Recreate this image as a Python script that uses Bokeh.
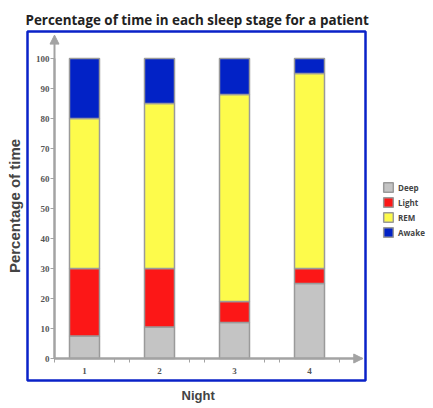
from bokeh.embed import file_html
from bokeh.models import (Arrow, BoxAnnotation, ColumnDataSource, FixedTicker, Legend, LegendItem,
                          NormalHead, Range1d, Title)
from bokeh.plotting import figure
from bokeh.resources import INLINE

# Data
nights = [1, 2, 3, 4]
stages = ["Deep", "Light", "REM", "Awake"]
deep = [7.5, 10.5, 12, 25]
light = [22.5, 19.5, 7, 5]
rem = [50, 55, 69, 65]
awake = [20, 15, 12, 5]
y_ticks = [0, 10, 20, 30, 40, 50, 60, 70, 80, 90, 100]
colours = ["#c4c4c4", "#fc1717", "#fdfb4b", "#0222c6"]
AXIS_GREY = "#a3a3a3"

source = ColumnDataSource(data=dict(night=nights, Deep=deep, Light=light, REM=rem, Awake=awake))

# frame runs to the right edge so the legend can sit outside the blue box
p = figure(width=433, height=408, output_backend="svg", toolbar_location=None, tools="",
           x_range=Range1d(0.2133, 5.6533), y_range=Range1d(-8, 109.667),
           min_border_left=25, min_border_top=29, min_border_right=0, min_border_bottom=26)

p.title.text = "Percentage of time in each sleep stage for a patient"
p.title.text_font = "Open Sans"
p.title.text_font_size = "13.4px"
p.title.text_font_style = "bold"
p.title.text_color = "#222222"
p.title.standoff = 1
p.title.offset = 0

p.outline_line_color = None
p.xgrid.visible = False
p.ygrid.visible = False

# blue box around the chart area
p.add_layout(BoxAnnotation(left=0.24, right=4.7467, bottom=-7.333, top=109, fill_alpha=0,
                           line_color="#0a22c8", line_width=2.5, line_alpha=1))

renderers = p.vbar_stack(stages, x="night", width=0.4, color=colours, line_color="#9a9a9a",
                         line_width=1.5, source=source)

# axes sit inside the blue box
p.yaxis.fixed_location = 0.6
p.yaxis.bounds = (0, 100)
p.yaxis.ticker = FixedTicker(ticks=y_ticks)
p.yaxis.major_tick_in = 0
p.yaxis.major_tick_out = 4
p.yaxis.major_label_standoff = 1

p.xaxis.fixed_location = 0
p.xaxis.bounds = (0.6, 4.7)
p.xaxis.ticker = FixedTicker(ticks=nights, minor_ticks=[0.6, 1.4, 1.6, 2.4, 2.6, 3.4, 3.6, 4.4])
p.xaxis.major_tick_in = 0
p.xaxis.major_tick_out = 0
p.xaxis.minor_tick_in = 0
p.xaxis.minor_tick_out = 4
p.xaxis.major_label_standoff = 5

for ax in [p.xaxis[0], p.yaxis[0]]:
    ax.axis_line_color = AXIS_GREY
    ax.axis_line_width = 2
    ax.major_tick_line_color = AXIS_GREY
    ax.minor_tick_line_color = AXIS_GREY if ax is p.xaxis[0] else None
    ax.major_label_text_font = "Liberation Serif"
    ax.major_label_text_font_size = "9px"
    ax.major_label_text_color = "#555555"
    ax.major_label_text_font_style = "bold"

# arrow heads at the ends of the axes
p.add_layout(Arrow(x_start=0.6, y_start=0, x_end=0.6, y_end=107.8, line_color=AXIS_GREY, line_width=2,
                   end=NormalHead(size=9, fill_color=AXIS_GREY, line_color=AXIS_GREY)))
p.add_layout(Arrow(x_start=0.6, y_start=0, x_end=4.71, y_end=0, line_color=AXIS_GREY, line_width=2,
                   end=NormalHead(size=9, fill_color=AXIS_GREY, line_color=AXIS_GREY)))

p.add_layout(Title(text="Percentage of time", align="center", text_font="Liberation Sans",
                   text_font_size="15px", text_font_style="bold", standoff=6), "left")
p.add_layout(Title(text="Night", align="left", offset=156, text_font="Liberation Sans",
                   text_font_size="13px", text_font_style="bold", standoff=7), "below")

legend = Legend(items=[LegendItem(label=s, renderers=[r]) for s, r in zip(stages, renderers)],
                location=(357, 144), label_text_font="Open Sans", label_text_font_size="8px",
                label_text_font_style="bold", glyph_width=12, glyph_height=12, spacing=3,
                label_standoff=4, padding=2, margin=0, border_line_color=None,
                background_fill_alpha=0)
p.add_layout(legend)

open("out.html", "w").write(file_html(p, INLINE))
